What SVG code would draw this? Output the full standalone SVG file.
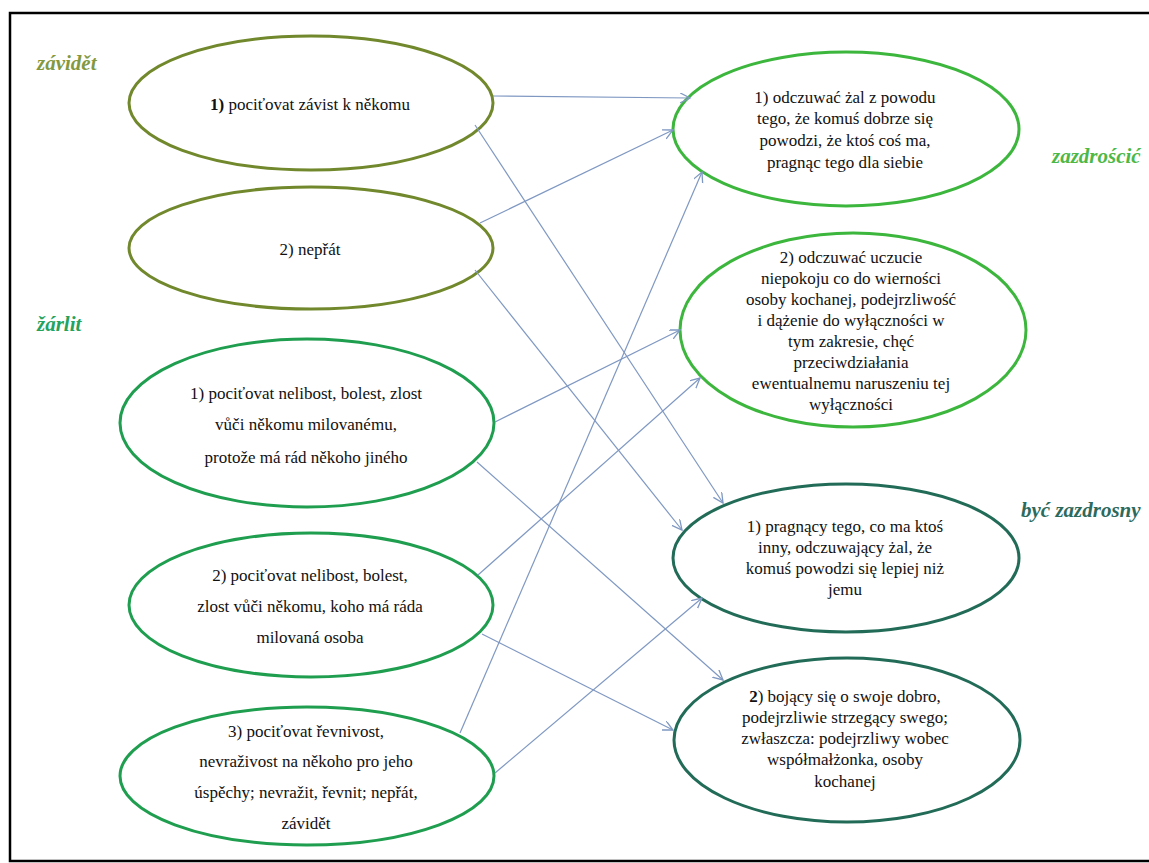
<svg xmlns="http://www.w3.org/2000/svg" width="1149" height="863" viewBox="0 0 1149 863">
<defs>
<marker id="arr" markerUnits="userSpaceOnUse" markerWidth="12" markerHeight="12" refX="10" refY="5" orient="auto">
<path d="M0,0 L10,5 L0,10" fill="none" stroke="#7f98c2" stroke-width="1.3"/>
</marker>
<style>
.t{font-size:17px;fill:#111;text-anchor:middle}
.lab{font-size:21px;font-style:italic;font-weight:bold}
.el{fill:#fff;stroke-width:3}
.olive{stroke:#71882c}
.green{stroke:#1f9e4f}
.lime{stroke:#3cb63c}
.teal{stroke:#216b57}
.c{stroke:#7f98c2;stroke-width:1.2;fill:none;marker-end:url(#arr)}
</style>
</defs>
<rect x="0" y="0" width="1149" height="863" fill="#fff"/>
<rect x="10" y="13" width="1145" height="848" fill="none" stroke="#000" stroke-width="2.5"/>

<g font-family="Liberation Serif, Times New Roman, DejaVu Serif, serif">
<text class="lab" x="37" y="70" fill="#82993f">závidět</text>
<text class="lab" x="37" y="331" fill="#23a35e">žárlit</text>
<text class="lab" x="1052" y="163" fill="#4cb848">zazdrościć</text>
<text class="lab" x="1021" y="517" fill="#2e6a5c">być zazdrosny</text>

<g id="zav1"><ellipse class="el olive" cx="311" cy="103" rx="182" ry="67"/>
<text class="t" x="310" y="110"><tspan font-weight="bold">1)</tspan> pociťovat závist k někomu</text></g>
<g id="zav2"><ellipse class="el olive" cx="311" cy="248" rx="182" ry="61"/>
<text class="t" x="310" y="255">2) nepřát</text></g>
<g id="zar1"><ellipse class="el green" cx="307" cy="423" rx="187" ry="84"/>
<text class="t" x="306" y="399">1) pociťovat nelibost,  bolest, zlost</text>
<text class="t" x="306" y="430">vůči někomu milovanému,</text>
<text class="t" x="306" y="463">protože má rád někoho jiného</text></g>
<g id="zar2"><ellipse class="el green" cx="311" cy="605" rx="182" ry="72"/>
<text class="t" x="310" y="581">2) pociťovat nelibost,  bolest,</text>
<text class="t" x="310" y="612">zlost vůči někomu, koho má ráda</text>
<text class="t" x="310" y="643">milovaná  osoba</text></g>
<g id="zar3"><ellipse class="el green" cx="307" cy="776" rx="187" ry="69"/>
<text class="t" x="306" y="737">3) pociťovat řevnivost,</text>
<text class="t" x="306" y="767">nevraživost na někoho pro jeho</text>
<text class="t" x="306" y="798">úspěchy; nevražit, řevnit; nepřát,</text>
<text class="t" x="306" y="829">závidět</text></g>

<g id="zaz1"><ellipse class="el lime" cx="846" cy="129" rx="173" ry="77"/>
<text class="t" x="845" y="103">1) odczuwać żal z powodu</text>
<text class="t" x="845" y="124">tego, że komuś dobrze się</text>
<text class="t" x="845" y="146">powodzi,  że ktoś coś ma,</text>
<text class="t" x="845" y="168">pragnąc tego dla siebie</text></g>
<g id="zaz2"><ellipse class="el lime" cx="853" cy="330" rx="173" ry="97"/>
<text class="t" x="851" y="263">2) odczuwać uczucie</text>
<text class="t" x="851" y="284">niepokoju  co do wierności</text>
<text class="t" x="851" y="305">osoby kochanej, podejrzliwość</text>
<text class="t" x="851" y="326">i dążenie do wyłączności w</text>
<text class="t" x="851" y="347">tym zakresie, chęć</text>
<text class="t" x="851" y="368">przeciwdziałania</text>
<text class="t" x="851" y="389">ewentualnemu naruszeniu tej</text>
<text class="t" x="851" y="410">wyłączności</text></g>
<g id="byc1"><ellipse class="el teal" cx="846" cy="558" rx="173" ry="74"/>
<text class="t" x="845" y="532">1) pragnący tego, co ma ktoś</text>
<text class="t" x="845" y="553">inny, odczuwający żal, że</text>
<text class="t" x="845" y="574">komuś powodzi się lepiej niż</text>
<text class="t" x="845" y="595">jemu</text></g>
<g id="byc2"><ellipse class="el teal" cx="847" cy="740" rx="173" ry="82"/>
<text class="t" x="845" y="702"><tspan font-weight="bold">2</tspan>) bojący się o swoje dobro,</text>
<text class="t" x="845" y="723">podejrzliwie  strzegący swego;</text>
<text class="t" x="845" y="744">zwłaszcza: podejrzliwy  wobec</text>
<text class="t" x="845" y="765">współmałżonka,  osoby</text>
<text class="t" x="845" y="787">kochanej</text></g>
</g>

<g id="connectors">
<line class="c" x1="493" y1="96" x2="690" y2="98"/>
<line class="c" x1="475" y1="125" x2="723" y2="503"/>
<line class="c" x1="480" y1="223" x2="673" y2="130"/>
<line class="c" x1="475" y1="270" x2="682" y2="530"/>
<line class="c" x1="495" y1="422" x2="680" y2="330"/>
<line class="c" x1="477" y1="462" x2="723" y2="680"/>
<line class="c" x1="478" y1="575" x2="700" y2="378"/>
<line class="c" x1="482" y1="634" x2="673" y2="730"/>
<line class="c" x1="460" y1="733" x2="702" y2="172"/>
<line class="c" x1="495" y1="773" x2="702" y2="598"/>
</g>
</svg>
